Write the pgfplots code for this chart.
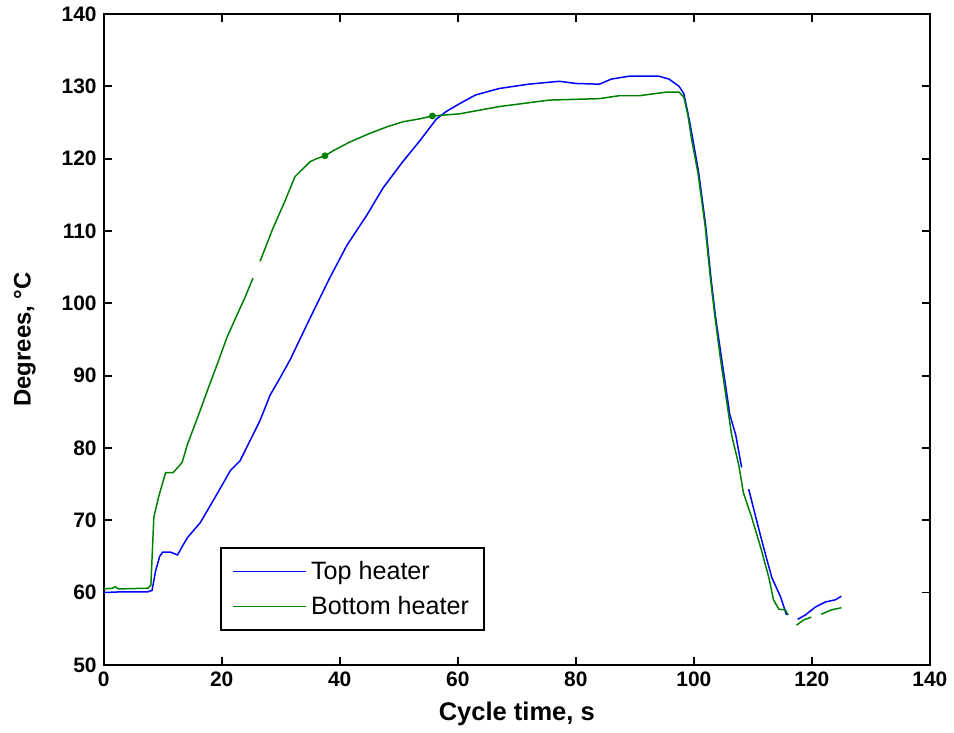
\documentclass[border=0pt]{standalone}
\usepackage{pgfplots}
\pgfplotsset{compat=1.18}
\usepackage{fontspec}
\setmainfont{Liberation Sans}

\definecolor{mblue}{RGB}{0,0,255}
\definecolor{mgreen}{RGB}{0,128,0}

\begin{document}
\begin{tikzpicture}
\begin{axis}[
    scale only axis,
    width=414.5pt, height=326.5pt,
    xmin=0, xmax=140, ymin=50, ymax=140,
    xtick={0,20,...,140}, ytick={50,60,...,140},
    axis line style={line width=0.9pt},
    every tick/.style={black, line width=0.9pt},
    major tick length=4pt,
    tick align=inside,
    /pgf/number format/assume math mode=true,
    tick label style={font=\fontsize{10.5}{12}\selectfont\bfseries},
    xlabel={Cycle time, s},
    ylabel={Degrees, °C},
    xlabel style={font=\fontsize{12.8}{14}\selectfont\bfseries, yshift=-1pt},
    ylabel style={font=\fontsize{12}{14}\selectfont\bfseries, inner sep=7pt, yshift=2.5pt},
    unbounded coords=jump,
    legend style={at={(0.141,0.052)}, anchor=south west,
        draw=black, line width=0.8pt, font=\fontsize{12.6}{14}\selectfont,
        inner xsep=5.5pt, inner ysep=4.5pt, row sep=3pt,
        cells={anchor=west}},
    legend image code/.code={\draw[#1] (0pt,0pt) -- (37pt,0pt);},
]
\addplot[draw=mblue, line width=0.75pt] coordinates {
(0,60.0) (3,60.1) (7.5,60.1) (8.2,60.3) (8.8,63) (9.5,65) (10,65.6) (11.3,65.6)
(12.5,65.2) (13.2,66.2) (14.2,67.6) (16.4,69.7) (18.9,73.2) (21.5,76.9)
(23.1,78.2) (24.8,81) (26.5,83.8) (28.2,87.3) (29.9,89.7) (31.6,92.2) (35,98)
(38.3,103.5) (41.2,108) (44.6,112.2) (47.3,115.9) (50.7,119.6) (53.5,122.4)
(56.4,125.5) (58,126.5) (60.3,127.6) (63,128.8) (67,129.7) (72,130.3)
(77.2,130.7) (80,130.4) (84,130.3) (86,131) (89,131.4) (94.1,131.4) (95.8,131)
(97.5,130) (98.3,129) (99.2,125.5) (99.8,122.8) (100.8,118.2) (102,110.8)
(102.9,103.5) (103.7,98) (104.7,92.4) (106.1,84.6) (107.1,81.8) (108.1,77.3)
(108.7,nan) (109.3,74.3) (110.5,70.4) (111.8,66.3) (113.2,62.1) (114.7,59.4)
(115.7,56.9) (116.5,nan) (117.6,56.3) (118.9,56.9) (120.6,58) (122.3,58.7)
(124,59) (125,59.5)
};
\addlegendentry{Top heater}
\addplot[draw=mgreen, line width=0.75pt] coordinates {
(0,60.5) (1.5,60.6) (2,60.8) (2.5,60.5) (7.5,60.6) (8,61) (8.5,70.4) (9.3,73.2)
(10.5,76.6) (11.8,76.6) (13.3,78) (14.2,80.5) (16,84.4) (17.7,88.2) (19.3,91.7)
(20.9,95.3) (22.6,98.4) (24,100.9) (25.3,103.5) (25.9,nan) (26.5,105.8)
(28.7,110.4) (30.7,114.1) (32.4,117.5) (35,119.6) (36.1,120) (37.5,120.4)
(38.9,121.1) (41.7,122.3) (45.1,123.5) (48,124.4) (50.7,125.1) (53.5,125.5)
(55.7,125.9) (60.3,126.2) (67,127.2) (75.5,128.1) (84,128.3) (87.3,128.7)
(90.7,128.7) (95.3,129.2) (97.5,129.2) (98.3,128.5) (99,126) (99.6,122.8)
(100.7,118) (101.9,110.8) (102.8,103.5) (103.6,98) (104.5,92.4) (105.9,84.6)
(106.4,81.8) (107.6,77.7) (108.4,73.8) (109.8,70.4) (111.3,66.3) (112.7,62.1)
(113.5,59) (114.4,57.7) (115.5,57.6) (116,56.9) (116.7,nan) (117.4,55.5)
(118.6,56.2) (119.9,56.6) (120.7,nan) (121.6,57) (123.3,57.6) (125,57.9)
};
\addlegendentry{Bottom heater}
\addplot[only marks, mark=*, mark size=1.5pt, mgreen, forget plot] coordinates {
(37.5,120.4) (55.7,125.9)
};
\end{axis}
\end{tikzpicture}
\end{document}
